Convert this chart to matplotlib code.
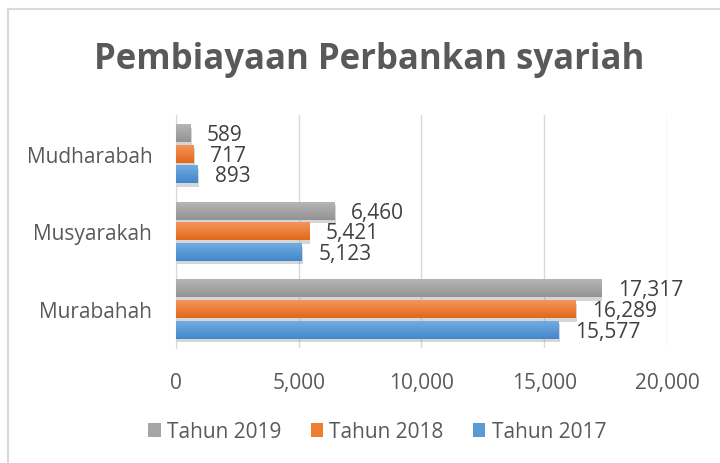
import numpy as np
import matplotlib
matplotlib.use("Agg")
import matplotlib.pyplot as plt
import matplotlib.patheffects as pe
from matplotlib.lines import Line2D
from matplotlib.patches import Patch
from matplotlib.colors import LinearSegmentedColormap

plt.rcParams['font.family'] = ['Open Sans', 'DejaVu Sans']

categories = ['Murabahah', 'Musyarakah', 'Mudharabah']
tahun_2017 = [15577, 5123, 893]
tahun_2018 = [16289, 5421, 717]
tahun_2019 = [17317, 6460, 589]

series = [
    ('Tahun 2017', tahun_2017, ('#72ABE0', '#4287CC'), -0.265),
    ('Tahun 2018', tahun_2018, ('#F4955C', '#E1681A'), 0.0),
    ('Tahun 2019', tahun_2019, ('#B5B5B5', '#939393'), 0.265),
]

fig = plt.figure(figsize=(7.2, 4.64), dpi=100)
ax = fig.add_axes([0.2444, 0.248, 0.6819, 0.502])

# light border (only left and top visible in the crop)
fig.lines.append(Line2D([0.011, 0.011, 1.0], [0.0, 0.978, 0.978], transform=fig.transFigure,
                        color='#D9D9D9', lw=1.5))

y = np.arange(len(categories))
h = 0.23
for name, vals, (c_top, c_bot), off in series:
    bars = ax.barh(y + off, vals, height=h, color=c_bot, zorder=3,
                   path_effects=[pe.SimplePatchShadow(offset=(1, -2.5), shadow_rgbFace='#8a8a8a', alpha=0.35),
                                 pe.Normal()])
    cmap = LinearSegmentedColormap.from_list(name, [c_bot, c_top])
    for b, v in zip(bars, vals):
        x0, y0 = b.get_x(), b.get_y()
        grad = np.linspace(0, 1, 64).reshape(-1, 1)
        ax.imshow(grad, extent=[x0, x0 + b.get_width(), y0, y0 + b.get_height()],
                  origin='lower', aspect='auto', cmap=cmap, zorder=4)
        ax.annotate(f'{v:,}', (v, y0 + b.get_height() / 2), xytext=(12, -1),
                    textcoords='offset points', ha='left', va='center',
                    fontsize=15, color='#404040', zorder=5)

ax.set_xlim(0, 20000)
ax.set_ylim(-0.5, 2.5)
ax.set_xticks([0, 5000, 10000, 15000, 20000])
ax.set_xticklabels(['0', '5,000', '10,000', '15,000', '20,000'])
ax.set_yticks(y)
ax.set_yticklabels(categories)
ax.tick_params(axis='both', length=0, labelsize=15, labelcolor='#595959')
ax.tick_params(axis='x', pad=17)
ax.tick_params(axis='y', pad=17)
ax.grid(axis='x', color='#D9D9D9', lw=1, zorder=0)
for s in ['top', 'right', 'bottom']:
    ax.spines[s].set_visible(False)
ax.spines['left'].set_color('#D9D9D9')

fig.text(0.513, 0.87, 'Pembiayaan Perbankan syariah', ha='center', va='center',
         fontsize=25, fontweight='bold', color='#595959')

handles = [Patch(facecolor='#A5A5A5'), Patch(facecolor='#ED7D31'), Patch(facecolor='#5B9BD5')]
fig.legend(handles, ['Tahun 2019', 'Tahun 2018', 'Tahun 2017'], loc='center',
           bbox_to_anchor=(0.524, 0.067), ncol=3, frameon=False, fontsize=15,
           labelcolor='#595959', handlelength=0.6, handleheight=0.6, handletextpad=0.3,
           columnspacing=1.4)

fig.savefig('out.png', dpi=100)
